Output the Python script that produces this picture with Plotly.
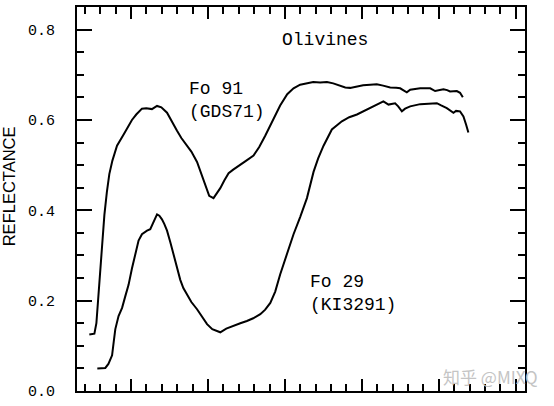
import plotly.graph_objects as go

# Wavelength (micrometres) and reflectance
fo91_wavelength = [0.229, 0.262, 0.275, 0.288, 0.301, 0.314, 0.327, 0.343, 0.359, 0.379,
                   0.409, 0.452, 0.506, 0.534, 0.571, 0.599, 0.636, 0.669, 0.697, 0.734,
                   0.762, 0.799, 0.827, 0.864, 0.892, 0.929, 0.957, 0.982, 1.008, 1.036,
                   1.054, 1.080, 1.106, 1.134, 1.164, 1.210, 1.249, 1.296, 1.333, 1.372,
                   1.418, 1.469, 1.515, 1.556, 1.599, 1.643, 1.684, 1.729, 1.773, 1.814,
                   1.859, 1.892, 1.924, 1.963, 2.008, 2.054, 2.097, 2.138, 2.184, 2.223,
                   2.249, 2.268, 2.292, 2.314, 2.346, 2.379, 2.411, 2.444, 2.476, 2.508,
                   2.530, 2.554, 2.573, 2.617, 2.638, 2.656]
fo91_reflectance = [0.125, 0.127, 0.150, 0.210, 0.270, 0.330, 0.390, 0.440, 0.480, 0.510,
                    0.543, 0.568, 0.600, 0.612, 0.625, 0.626, 0.624, 0.631, 0.628, 0.616,
                    0.598, 0.576, 0.560, 0.543, 0.530, 0.507, 0.480, 0.453, 0.432, 0.427,
                    0.435, 0.449, 0.466, 0.482, 0.490, 0.500, 0.510, 0.521, 0.540, 0.565,
                    0.598, 0.632, 0.657, 0.670, 0.678, 0.682, 0.684, 0.683, 0.684, 0.681,
                    0.675, 0.672, 0.671, 0.674, 0.677, 0.678, 0.679, 0.676, 0.672, 0.671,
                    0.670, 0.666, 0.661, 0.667, 0.669, 0.670, 0.670, 0.670, 0.664, 0.667,
                    0.668, 0.666, 0.663, 0.664, 0.660, 0.650]

fo29_wavelength = [0.281, 0.307, 0.333, 0.353, 0.377, 0.388, 0.398, 0.419, 0.442, 0.463,
                   0.484, 0.506, 0.528, 0.549, 0.571, 0.604, 0.625, 0.645, 0.669, 0.684,
                   0.701, 0.716, 0.734, 0.755, 0.777, 0.799, 0.820, 0.840, 0.864, 0.892,
                   0.929, 0.957, 0.994, 1.028, 1.054, 1.080, 1.119, 1.166, 1.210, 1.253,
                   1.294, 1.340, 1.372, 1.405, 1.437, 1.469, 1.508, 1.556, 1.599, 1.643,
                   1.686, 1.716, 1.751, 1.805, 1.870, 1.918, 1.968, 2.008, 2.054, 2.097,
                   2.140, 2.173, 2.216, 2.236, 2.260, 2.281, 2.314, 2.379, 2.431, 2.487,
                   2.515, 2.552, 2.595, 2.612, 2.638, 2.660, 2.677, 2.692]
fo29_reflectance = [0.050, 0.050, 0.051, 0.060, 0.079, 0.110, 0.137, 0.166, 0.184, 0.210,
                    0.235, 0.271, 0.300, 0.333, 0.347, 0.355, 0.358, 0.372, 0.391, 0.388,
                    0.380, 0.370, 0.355, 0.330, 0.300, 0.272, 0.246, 0.228, 0.213, 0.197,
                    0.181, 0.166, 0.148, 0.137, 0.133, 0.130, 0.138, 0.145, 0.150, 0.155,
                    0.161, 0.170, 0.180, 0.195, 0.220, 0.258, 0.300, 0.347, 0.385, 0.427,
                    0.485, 0.515, 0.543, 0.579, 0.597, 0.606, 0.612, 0.619, 0.626, 0.634,
                    0.641, 0.634, 0.637, 0.630, 0.619, 0.625, 0.630, 0.635, 0.636, 0.637,
                    0.632, 0.626, 0.616, 0.620, 0.619, 0.608, 0.590, 0.572]

y_tick_values = [0.0, 0.2, 0.4, 0.6, 0.8]
y_tick_labels = ["0.0", "0.2", "0.4", "0.6", "0.8"]

MONO = "Liberation Mono"

fig = go.Figure()
for xs, ys in [(fo91_wavelength, fo91_reflectance), (fo29_wavelength, fo29_reflectance)]:
    fig.add_trace(go.Scatter(x=xs, y=ys, mode="lines",
                             line=dict(color="black", width=2), showlegend=False,
                             hoverinfo="skip"))

fig.update_layout(
    width=554, height=406,
    margin=dict(l=77, r=29, t=5, b=9),
    paper_bgcolor="white", plot_bgcolor="white",
    showlegend=False,
)
fig.update_xaxes(
    range=[0.149, 3.06], showgrid=False, zeroline=False,
    showline=True, linecolor="black", linewidth=2, mirror="ticks",
    ticks="inside", tick0=0.5, dtick=0.5, ticklen=12, tickwidth=2, tickcolor="black",
    showticklabels=False,
    minor=dict(ticks="inside", tick0=0.5, dtick=0.1, ticklen=7, tickwidth=2,
               tickcolor="black", showgrid=False),
)
fig.update_yaxes(
    range=[0, 0.85], showgrid=False, zeroline=False,
    showline=True, linecolor="black", linewidth=2, mirror="ticks",
    ticks="inside", tickvals=y_tick_values, ticktext=y_tick_labels,
    ticklen=15, tickwidth=2, tickcolor="black",
    tickfont=dict(family=MONO, size=15, color="black"),
    ticklabelstandoff=17, ticklabeloverflow="allow",
    minor=dict(ticks="inside", tick0=0, dtick=0.05, ticklen=7, tickwidth=2,
               tickcolor="black", showgrid=False),
)

ann_font = dict(family=MONO, size=18, color="black")
fig.add_annotation(text="Olivines", x=1.762, y=0.777, xref="x", yref="y",
                   showarrow=False, font=ann_font, xanchor="center", yanchor="middle")
fig.add_annotation(text="Fo 91<br>(GDS71)", x=0.862, y=0.643, xref="x", yref="y",
                   showarrow=False, font=ann_font, xanchor="left", yanchor="middle",
                   align="left")
fig.add_annotation(text="Fo 29<br>(KI3291)", x=1.650, y=0.216, xref="x", yref="y",
                   showarrow=False, font=ann_font, xanchor="left", yanchor="middle",
                   align="left")
fig.add_annotation(text="REFLECTANCE", x=-0.151, y=0.534, xref="paper", yref="paper",
                   showarrow=False, textangle=-90, xanchor="center", yanchor="middle",
                   font=dict(family="Liberation Sans", size=16.5, color="black"))
fig.add_annotation(text="知乎 @MIXQ", x=1.0335, y=0.0375, xref="paper", yref="paper",
                   showarrow=False, xanchor="right", yanchor="middle",
                   font=dict(family="Noto Sans CJK SC", size=17, color="#c4c4c4"))

fig.write_html("out.html", config={"displayModeBar": False},
               post_script="document.body.style.margin='0';")
